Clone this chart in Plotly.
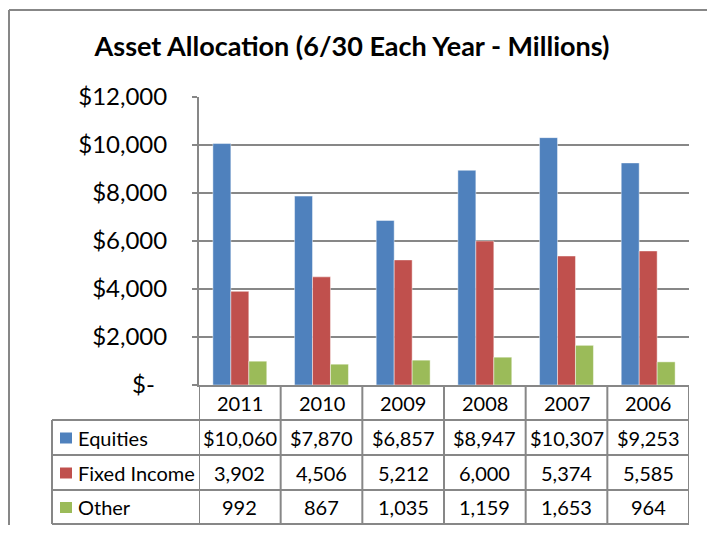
import plotly.graph_objects as go

years = ["2011", "2010", "2009", "2008", "2007", "2006"]
equities = [10060, 7870, 6857, 8947, 10307, 9253]
fixed_income = [3902, 4506, 5212, 6000, 5374, 5585]
other = [992, 867, 1035, 1159, 1653, 964]

series_names = ["Equities", "Fixed Income", "Other"]
series_values = [equities, fixed_income, other]
series_colors = ["#4F81BD", "#C0504D", "#9BBB59"]
# table shows equities with a dollar sign, the rest as plain numbers
table_text = [
    ["$" + format(v, ",") for v in equities],
    [format(v, ",") for v in fixed_income],
    [format(v, ",") for v in other],
]

y_ticks = [0, 2000, 4000, 6000, 8000, 10000, 12000]
y_labels = ["$-\u00a0\u00a0", "$2,000", "$4,000", "$6,000", "$8,000", "$10,000", "$12,000"]

# page body has an 8px margin, so the figure sits at (8, 8) in the window
OFF = 8
W, H = 715 - 2 * OFF, 533 - 2 * OFF
L, R, T, B = 199, 689, 97, 385   # plot area in window pixels
FONT = "Lato"
GRID = "#878787"


def px(x):
    return (x - L) / (R - L)


def py(y):
    return (B - y) / (B - T)


fig = go.Figure()
for name, vals, col in zip(series_names, series_values, series_colors):
    fig.add_trace(go.Bar(x=years, y=vals, name=name, marker_color=col,
                         marker_line=dict(color="rgba(255,255,255,0.45)", width=1)))

shapes = []
annotations = []

# outer chart frame (only left and top edges are in view)
frame = dict(color=GRID, width=2)
shapes.append(dict(type="line", xref="paper", yref="paper", x0=px(OFF + 1), x1=px(OFF + 1),
                   y0=py(540), y1=py(10), line=frame))
shapes.append(dict(type="line", xref="paper", yref="paper", x0=px(OFF + 1), x1=px(720),
                   y0=py(10), y1=py(10), line=frame))

# data table below the plot (category i sits at x = i on the axis)
rows = [385, 420, 455, 490, 524]
line = dict(color=GRID, width=2)
for i in range(len(years) + 1):
    shapes.append(dict(type="line", xref="x", yref="paper", x0=i - 0.5, x1=i - 0.5,
                       y0=py(rows[0]), y1=py(rows[-1]), line=line))
for r in rows[1:]:
    shapes.append(dict(type="line", xref="paper", yref="paper", x0=px(52), x1=px(R),
                       y0=py(r), y1=py(r), line=line))
shapes.append(dict(type="line", xref="paper", yref="paper", x0=px(52), x1=px(52),
                   y0=py(rows[1]), y1=py(rows[-1]), line=line))

tfont = dict(size=20, color="black", family=FONT)
for j, yr in enumerate(years):
    annotations.append(dict(x=j, y=py((rows[0] + rows[1]) / 2), xref="x", yref="paper",
                            text=yr, showarrow=False, font=tfont,
                            xanchor="center", yanchor="middle"))

for k, name in enumerate(series_names):
    yc = (rows[k + 1] + rows[k + 2]) / 2
    shapes.append(dict(type="rect", xref="paper", yref="paper", x0=px(60), x1=px(72),
                       y0=py(yc + 6), y1=py(yc - 5), fillcolor=series_colors[k], line_width=0))
    annotations.append(dict(x=px(76), y=py(yc), xref="paper", yref="paper", text=name,
                            xanchor="left", yanchor="middle", showarrow=False, font=tfont))
    for j in range(len(years)):
        annotations.append(dict(x=j, y=py(yc), xref="x", yref="paper", text=table_text[k][j],
                                showarrow=False, font=tfont,
                                xanchor="center", yanchor="middle"))

fig.update_layout(
    width=W, height=H,
    margin=dict(l=L - OFF, r=W - (R - OFF), t=T - OFF, b=H - (B - OFF), pad=0),
    paper_bgcolor="white", plot_bgcolor="white",
    font=dict(family=FONT, color="black"),
    title=dict(text="<b>Asset Allocation (6/30 Each Year - Millions)</b>",
               x=(352 - OFF) / W, xanchor="center", y=1 - (47 - OFF) / H, yanchor="middle",
               font=dict(size=27, family=FONT, color="black")),
    showlegend=False,
    barmode="group", bargap=0.34, bargroupgap=0,
    xaxis=dict(type="category", range=[-0.5, len(years) - 0.5], autorange=False,
               showticklabels=False, showline=True, linecolor=GRID,
               linewidth=2, showgrid=False, ticks=""),
    yaxis=dict(range=[0, 12000], tickvals=y_ticks, ticktext=y_labels,
               showgrid=True, gridcolor=GRID, gridwidth=2,
               showline=True, linecolor=GRID, linewidth=2,
               ticks="outside", ticklen=5, tickcolor=GRID, tickwidth=2,
               ticklabelstandoff=20, tickfont=dict(size=24, color="black"),
               zeroline=False),
    shapes=shapes,
    annotations=annotations,
)

fig.write_html("out.html")
